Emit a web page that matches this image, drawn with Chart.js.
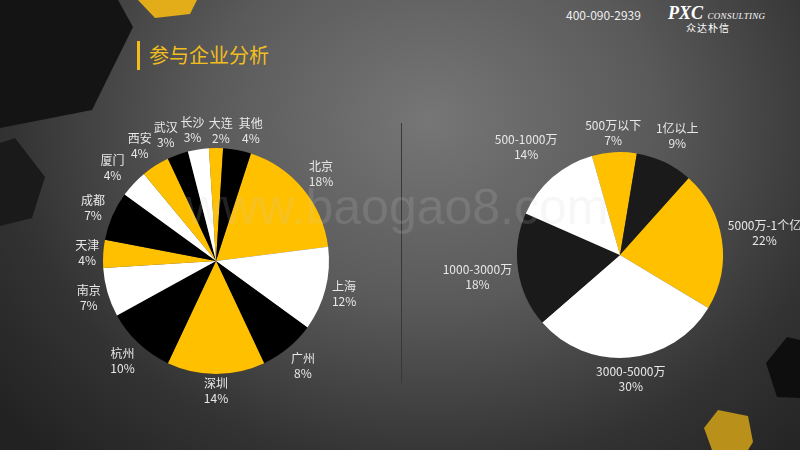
<!DOCTYPE html>
<html>
<head>
<meta charset="utf-8">
<script src="https://cdn.jsdelivr.net/npm/chart.js@4.4.1/dist/chart.umd.min.js"></script>
<style>
  html, body { margin: 0; padding: 0; }
  body {
    width: 800px; height: 450px; overflow: hidden; position: relative;
    background: radial-gradient(ellipse 560px 460px at 430px 120px, #767676 0%, #5a5a5a 40%, #333 75%, #222 100%);
    font-family: "Noto Sans CJK SC", "Noto Sans", sans-serif;
  }
  .box { position: absolute; }
  #deco { position: absolute; left: 0; top: 0; }
  .title { position: absolute; left: 149px; top: 40px; color: #f2bd1d; font-size: 20px; line-height: 30px; }
  .bar { position: absolute; left: 137px; top: 41px; width: 3px; height: 29px; background: #f2bd1d; }
  .phone { position: absolute; left: 566px; top: 6px; color: #eee; font-size: 12px; }
  .logo { position: absolute; left: 668px; top: 3px; color: #fff; font-family: "Liberation Serif", serif; font-style: italic; font-weight: bold; font-size: 18px; }
  .logo small { font-size: 9px; font-weight: normal; letter-spacing: 0.3px; }
  .logo-cn { position: absolute; left: 686px; top: 20px; color: #fff; font-size: 10px; letter-spacing: 1px; }
  .divider { position: absolute; left: 401px; top: 123px; width: 1px; height: 260px; background: #383838; }
  .mark { position: absolute; left: 186px; top: 178px; font-family: "Liberation Sans", sans-serif; font-size: 50px; color: rgba(205,205,205,0.16); pointer-events: none; }
</style>
</head>
<body>
<svg id="deco" width="800" height="450">
  <polygon points="0,0 118,0 133,27 92,110 0,128" fill="#141414"/>
  <polygon points="0,143 15,138 45,177 32,218 0,226" fill="#1a1a1a"/>
  <polygon points="138,0 197,0 190,14 155,18" fill="#e2ad19"/>
  <polygon points="718,410 748,416 753,442 748,450 712,450 704,428" fill="#b8901a"/>
  <polygon points="787,337 800,340 800,398 777,397 766,363" fill="#0e0e0e"/>
</svg>
<div class="bar"></div>
<div class="title">参与企业分析</div>
<div class="phone">400-090-2939</div>
<div class="logo">PXC <small>CONSULTING</small></div>
<div class="logo-cn">众达朴信</div>
<div class="divider"></div>
<div class="box" style="left:36px;top:81px;width:360px;height:360px"><canvas id="cityPie"></canvas></div>
<div class="box" style="left:440px;top:75px;width:360px;height:360px"><canvas id="scalePie"></canvas></div>
<div class="mark">www.baogao8.com</div>
<script>
const YELLOW = '#ffc000'

// 城市分布
const cityLabels = ['北京', '上海', '广州', '深圳', '杭州', '南京', '天津', '成都', '厦门', '西安', '武汉', '长沙', '大连', '其他']
const cityShares = [18, 12, 8, 14, 10, 7, 4, 7, 4, 4, 3, 3, 2, 4]
const cityColors = [YELLOW, '#ffffff', '#000000', YELLOW, '#000000', '#ffffff', YELLOW, '#000000', '#ffffff', YELLOW, '#000000', '#ffffff', YELLOW, '#000000']

// 企业规模
const scaleLabels = ['500万以下', '1亿以上', '5000万-1个亿', '3000-5000万', '1000-3000万', '500-1000万']
const scaleShares = [7, 9, 22, 30, 18, 14]
const scaleColors = [YELLOW, '#1a1a1b', YELLOW, '#ffffff', '#1a1a1b', '#ffffff']

// labels outside each slice: name on top, percent below
const outsideLabels = {
  id: 'outsideLabels',
  afterDatasetsDraw(chart, args, opts) {
    const ctx = chart.ctx
    const meta = chart.getDatasetMeta(0)
    const values = chart.data.datasets[0].data
    ctx.save()
    ctx.font = '12px "Noto Sans CJK SC", sans-serif'
    ctx.fillStyle = '#e8e8e8'
    ctx.textAlign = 'center'
    ctx.textBaseline = 'middle'
    const boxes = []
    meta.data.forEach((arc, i) => {
      const p = arc.getProps(['x', 'y', 'startAngle', 'endAngle', 'outerRadius'], true)
      const mid = (p.startAngle + p.endAngle) / 2
      const cx = Math.cos(mid), cy = Math.sin(mid)
      const name = chart.data.labels[i]
      const pct = values[i] + '%'
      const w = Math.max(ctx.measureText(name).width, ctx.measureText(pct).width)
      const h = 28
      const off = opts.gap + Math.abs(cx) * w / 2 + Math.abs(cy) * h / 2 + opts.diag * Math.abs(cx * cy)
      boxes.push({ name, pct, w, x: p.x + cx * (p.outerRadius + off), y: p.y + cy * (p.outerRadius + off) })
    })
    // spread crowded neighbours a little sideways
    for (let k = 0; k < 3; k++) {
      for (let i = 0; i < boxes.length; i++) {
        const a = boxes[i], b = boxes[(i + 1) % boxes.length]
        const need = (a.w + b.w) / 2 + 6
        if (Math.abs(a.y - b.y) < 26 && Math.abs(a.x - b.x) < need) {
          const push = (need - Math.abs(a.x - b.x)) / 2
          const dir = a.x < b.x ? 1 : -1
          a.x -= dir * push
          b.x += dir * push
        }
      }
    }
    boxes.forEach(bx => {
      ctx.fillText(bx.name, bx.x, bx.y - 7.5)
      ctx.fillText(bx.pct, bx.x, bx.y + 7.5)
    })
    ctx.restore()
  }
}

function makePie(id, labels, data, colors, rotation, pad, gap, diag) {
  return new Chart(document.getElementById(id), {
    type: 'pie',
    data: {
      labels: labels,
      datasets: [{ data: data, backgroundColor: colors, borderWidth: 0 }],
    },
    options: {
      responsive: true,
      maintainAspectRatio: false,
      animation: false,
      rotation: rotation,
      layout: { padding: pad },
      plugins: {
        legend: { display: false },
        tooltip: { enabled: false },
        outsideLabels: { gap: gap, diag: diag },
      },
    },
    plugins: [outsideLabels],
  })
}

makePie('cityPie', cityLabels, cityShares, cityColors, 18, 67, 3, 4)
makePie('scalePie', scaleLabels, scaleShares, scaleColors, -15.8, 77, 3, 12)
</script>
</body>
</html>
